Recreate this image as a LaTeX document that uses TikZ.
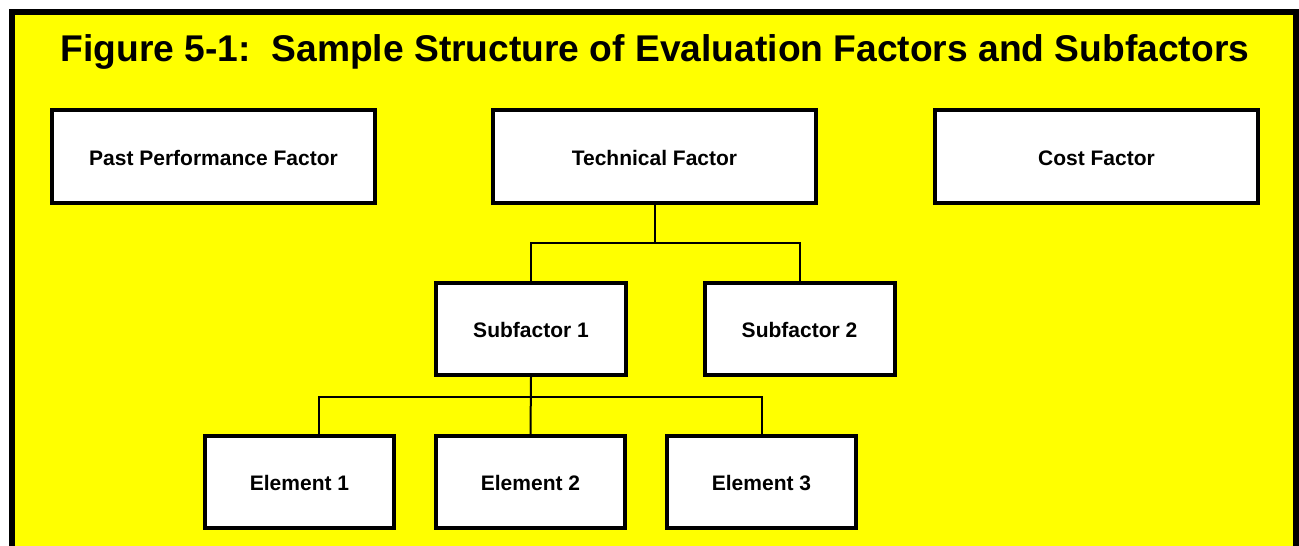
\documentclass[tikz,border=0pt]{standalone}
\usepackage{fontspec}
\setmainfont{Liberation Sans}
\usetikzlibrary{positioning}
\definecolor{bgyellow}{RGB}{255,255,0}

\begin{document}
\begin{tikzpicture}[x=1pt,y=-1pt,
    factorbox/.style={draw,line width=4pt,fill=white,minimum width=323pt,minimum height=93pt,
        text height=19pt,text depth=2pt,font=\fontsize{21}{24}\selectfont\bfseries},
    subbox/.style={factorbox,minimum width=190pt,minimum height=92pt},
    elembox/.style={factorbox,minimum width=189pt,minimum height=92pt},
    link/.style={line width=2pt}]

    \useasboundingbox (0,0) rectangle (1299,546);
    \fill[bgyellow] (9,9) rectangle (1299,546);
    \draw[line width=6pt] (12,546) -- (12,12) -- (1296,12) -- (1296,546);

    \node[font=\fontsize{37.2}{40}\selectfont\bfseries,anchor=base] (title) at (655,61)
        {Figure 5-1:~~Sample Structure of Evaluation Factors and Subfactors};

    \node[factorbox] (past) at (213.5,156.5) {Past Performance Factor};
    \node[factorbox] (tech) at (654.5,156.5) {Technical Factor};
    \node[factorbox] (cost) at (1096.5,156.5) {Cost Factor};

    \node[subbox] (sub1) at (531,329) {Subfactor 1};
    \node[subbox] (sub2) at (799.5,329) {Subfactor 2};

    \node[elembox] (el1) at (299.5,482) {Element 1};
    \node[elembox] (el2) at (530.5,482) {Element 2};
    \node[elembox] (el3) at (761.5,482) {Element 3};

    \draw[link] (tech.south) -- ++(0,38) -| (sub1.north);
    \draw[link] (tech.south) -- ++(0,38) -| (sub2.north);

    \draw[link] (sub1.south) -- ++(0,20) -| ([xshift=19.5pt]el1.north);
    \draw[link] (sub1.south) -- (el2.north);
    \draw[link] (sub1.south) -- ++(0,20) -| (el3.north);

\end{tikzpicture}
\end{document}
